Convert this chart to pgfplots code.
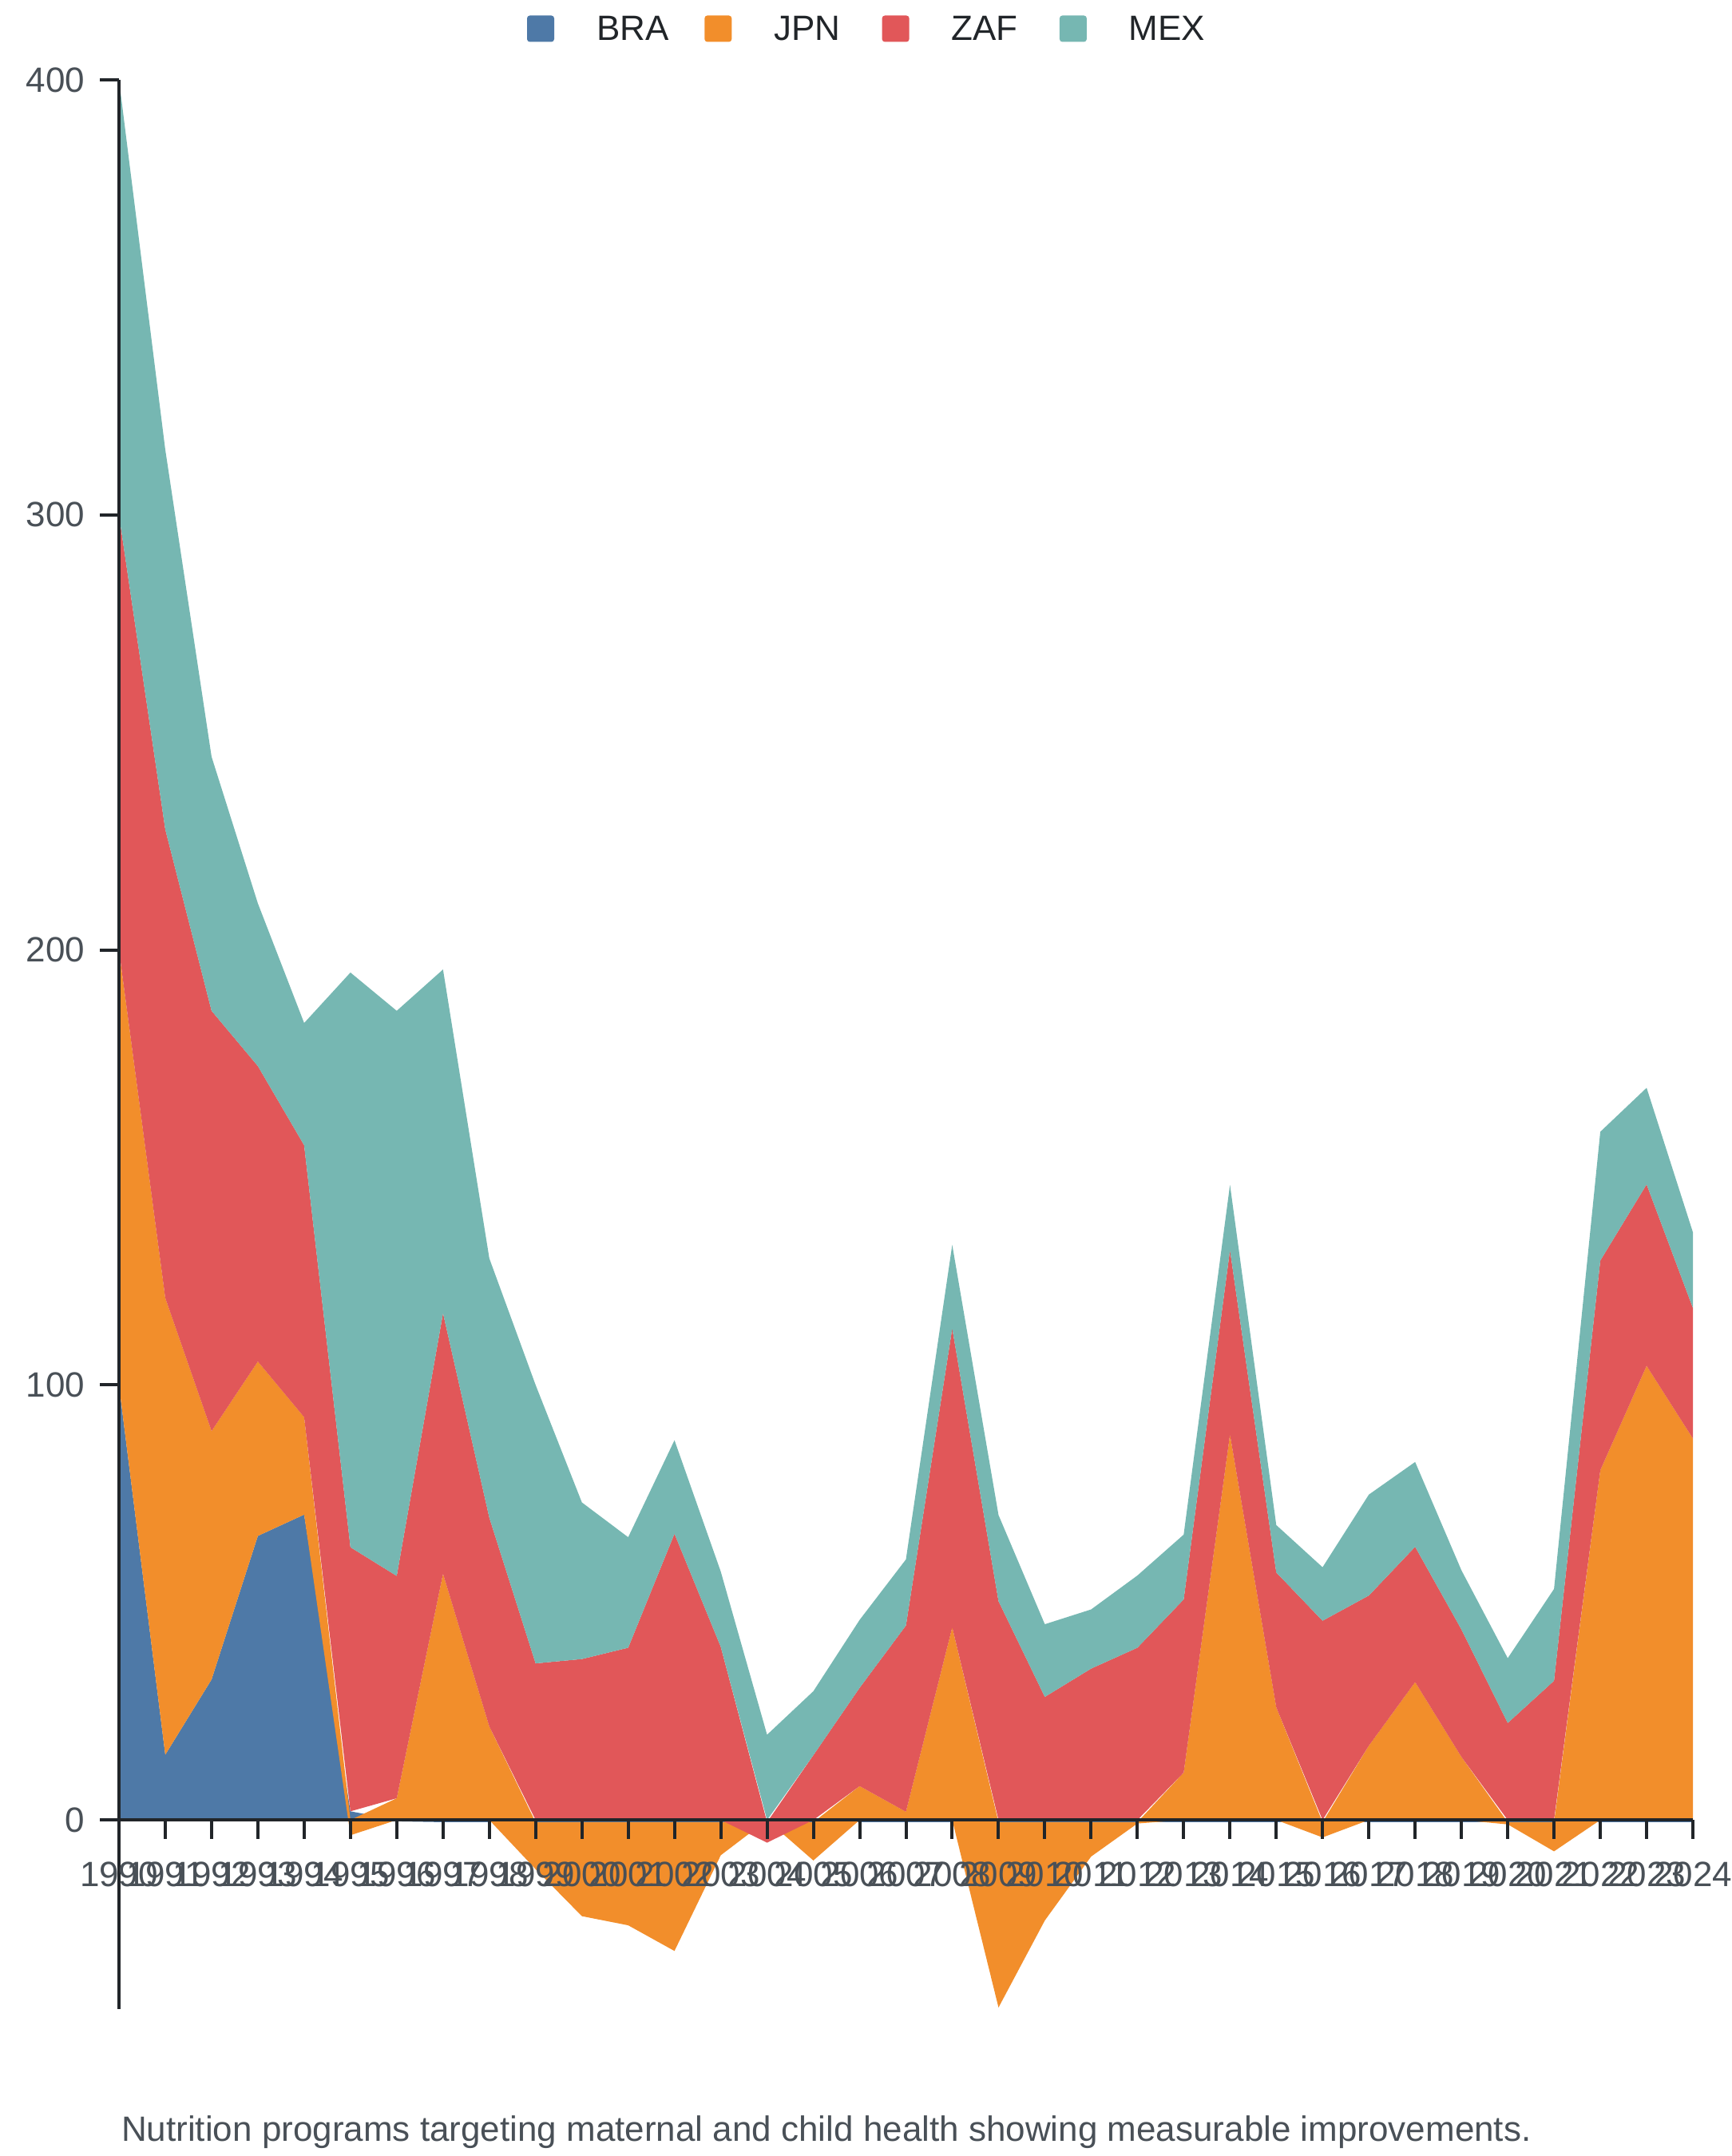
\documentclass[border=0pt]{standalone}
\usepackage{fontspec}
\setmainfont{Liberation Sans}
\usepackage{pgfplots}
\pgfplotsset{compat=1.18}
\usepackage{pgfplotstable}
\usepgfplotslibrary{fillbetween}
\definecolor{bra}{HTML}{4E79A7}
\definecolor{jpn}{HTML}{F28E2B}
\definecolor{zaf}{HTML}{E15759}
\definecolor{mex}{HTML}{76B7B2}
\definecolor{axc}{HTML}{212529}
\definecolor{lbl}{HTML}{495057}

% diverging stack boundaries (lower/upper) per series; i = year - 1990
\pgfplotstableread{
i bra0 bra1 jpn0 jpn1 zaf0 zaf1 mex0 mex1
0 0 100 100 200 200 300 300 400
1 0 15 15 120 120 227.7 227.7 315
2 0 32.3 32.3 89.4 89.4 186 186 244.4
3 0 65.3 65.3 105.4 105.4 173.3 173.3 210.7
4 0 70.2 70.2 92.6 92.6 155.1 155.1 183.2
5 0 2 -3.5 0 2 62.7 62.7 194.8
6 -0.3 0 0 5 5 56.1 56.1 186
7 -0.5 0 0 56.6 56.6 116.5 116.5 195.5
8 -0.5 0 0 21.5 21.5 69.5 69.5 129.1
9 -0.5 0 -11.3 -0.5 0 36 36 100
10 -0.5 0 -22.1 -0.5 0 37 37 73
11 -0.5 0 -24.2 -0.5 0 39.6 39.6 65
12 -0.5 0 -30.1 -0.5 0 65.8 65.8 87.3
13 -0.5 0 -8.1 -0.5 0 39.8 39.8 57.1
14 -0.5 0 0 0 -5.2 -0.5 0 19.6
15 -0.5 0 -9.3 -0.5 0 14.9 14.9 29.6
16 -0.5 0 0 7.8 7.8 30.4 30.4 46
17 -0.5 0 0 1.9 1.9 44.7 44.7 59.9
18 -0.5 0 0 44.3 44.3 113 113 132.2
19 -0.5 0 -43.1 -0.5 0 50.3 50.3 70.1
20 -0.5 0 -23.1 -0.5 0 28.3 28.3 45
21 -0.5 0 -8.4 -0.5 0 34.8 34.8 48.4
22 -0.5 0 -0.8 -0.5 0 39.6 39.6 56.2
23 -0.5 0 0 10.9 10.9 50.7 50.7 65.6
24 -0.5 0 0 88.6 88.6 131 131 146
25 -0.5 0 0 25.9 25.9 56.9 56.9 67.8
26 -0.5 0 -4 -0.5 0 45.8 45.8 58.1
27 -0.5 0 0 17.1 17.1 51.6 51.6 74.8
28 -0.5 0 0 31.7 31.7 62.8 62.8 82.3
29 -0.5 0 0 14.5 14.5 43.8 43.8 57.4
30 -0.5 0 -1 -0.5 0 22.3 22.3 37.2
31 -0.5 0 -7.2 -0.5 0 32 32 53.1
32 -0.5 0 0 80.4 80.4 128.6 128.6 158.2
33 -0.5 0 0 104.4 104.4 146.1 146.1 168.3
34 -0.5 0 0 87.7 87.7 117.7 117.7 135.1
}\stackdata

\begin{document}
\begin{tikzpicture}[font=\fontsize{8.8}{10.5}\selectfont]
\path (0,0) rectangle (432pt,540pt);
\begin{axis}[
  at={(29.8pt,36.86pt)}, anchor=south west,
  scale only axis, width=394.2pt, height=483.14pt,
  xmin=0, xmax=34, ymin=-43.4, ymax=400,
  hide axis, clip=false]
\addplot[draw=none, name path=braU] table[x=i,y=bra1]{\stackdata};
\addplot[draw=none, name path=braL] table[x=i,y=bra0]{\stackdata};
\addplot[draw=none, name path=jpnU] table[x=i,y=jpn1]{\stackdata};
\addplot[draw=none, name path=jpnL] table[x=i,y=jpn0]{\stackdata};
\addplot[draw=none, name path=zafU] table[x=i,y=zaf1]{\stackdata};
\addplot[draw=none, name path=zafL] table[x=i,y=zaf0]{\stackdata};
\addplot[draw=none, name path=mexU] table[x=i,y=mex1]{\stackdata};
\addplot[draw=none, name path=mexL] table[x=i,y=mex0]{\stackdata};
\addplot[fill=bra, draw=none] fill between[of=braU and braL];
\addplot[fill=jpn, draw=none] fill between[of=jpnU and jpnL];
\addplot[fill=zaf, draw=none] fill between[of=zafU and zafL];
\addplot[fill=mex, draw=none] fill between[of=mexU and mexL];
% axes
\draw[axc, line width=0.8pt] (axis cs:0,-43.4) -- (axis cs:0,400);
\draw[axc, line width=0.8pt] (axis cs:0,0) -- (axis cs:34,0);
\pgfplotsinvokeforeach{0,100,200,300,400}{
  \draw[axc, line width=0.8pt] ([xshift=-4.8pt]axis cs:0,#1) -- (axis cs:0,#1);
  \node[anchor=east, inner sep=0, text=lbl, xshift=-8.34pt] at (axis cs:0,#1) {#1};
}
\pgfplotsinvokeforeach{0,1,...,34}{
  \draw[axc, line width=0.8pt] (axis cs:#1,0) -- ([yshift=-4.8pt]axis cs:#1,0);
  \node[anchor=base, inner sep=0, text=lbl, yshift=-16.7pt] at (axis cs:#1,0) {\number\numexpr1990+#1\relax};
}
\end{axis}
% legend
\fill[bra, rounded corners=0.7pt] (132pt,529.5pt) rectangle ++(6.8pt,6.6pt);
\node[anchor=base west, inner sep=0, text=axc] at (149.2pt,529.8pt) {BRA};
\fill[jpn, rounded corners=0.7pt] (176.46pt,529.5pt) rectangle ++(6.8pt,6.6pt);
\node[anchor=base west, inner sep=0, text=axc] at (193.66pt,529.8pt) {JPN};
\fill[zaf, rounded corners=0.7pt] (220.92pt,529.5pt) rectangle ++(6.8pt,6.6pt);
\node[anchor=base west, inner sep=0, text=axc] at (238.12pt,529.8pt) {ZAF};
\fill[mex, rounded corners=0.7pt] (265.38pt,529.5pt) rectangle ++(6.8pt,6.6pt);
\node[anchor=base west, inner sep=0, text=axc] at (282.58pt,529.8pt) {MEX};
% caption
\node[anchor=base west, inner sep=0, text=lbl] at (30.2pt,3.7pt) {Nutrition programs targeting maternal and child health showing measurable improvements.};
\end{tikzpicture}
\end{document}
